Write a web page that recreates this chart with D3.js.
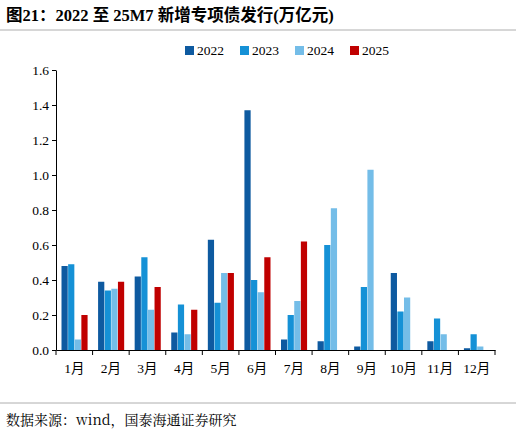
<!DOCTYPE html>
<html><head><meta charset="utf-8">
<script src="https://d3js.org/d3.v7.min.js"></script>
<style>body{margin:0;background:#fff}</style></head>
<body><svg id="c" width="516" height="435"></svg>
<script>
const months=["1月","2月","3月","4月","5月","6月","7月","8月","9月","10月","11月","12月"];
const seriesNames=["2022","2023","2024","2025"];
const s2022=[0.48,0.39,0.42,0.10,0.63,1.37,0.06,0.05,0.02,0.44,0.05,0.01];
const s2023=[0.49,0.34,0.53,0.26,0.27,0.40,0.20,0.60,0.36,0.22,0.18,0.09];
const s2024=[0.06,0.35,0.23,0.09,0.44,0.33,0.28,0.81,1.03,0.30,0.09,0.02];
const s2025=[0.20,0.39,0.36,0.23,0.44,0.53,0.62];
const yTicks=[0,0.2,0.4,0.6,0.8,1.0,1.2,1.4,1.6];
const colors=["#0E5AA0","#1591D6","#74BDE8","#C00000"];
const all=[s2022,s2023,s2024,s2025];
const svg=d3.select("#c");
const font="'Times New Roman','Liberation Serif','Noto Sans CJK SC',serif";
svg.append("text").attr("x",6).attr("y",21).attr("font-family","'Liberation Serif','Noto Sans CJK SC',serif").attr("font-weight","bold").attr("font-size",16.5).text("图21：2022 至 25M7 新增专项债发行(万亿元)");
svg.append("line").attr("x1",0).attr("x2",516).attr("y1",30).attr("y2",30).attr("stroke","#999").attr("stroke-width",0.8);
const x=d3.scaleBand().domain(months).range([56,495]);
const y=d3.scaleLinear().domain([0,1.6]).range([350,70]);
const inner=d3.scaleBand().domain(seriesNames).range([5.5,x.bandwidth()-5]).paddingInner(0.06);
all.forEach((arr,si)=>{
 svg.append("g").selectAll("rect").data(arr).join("rect")
  .attr("x",(d,i)=>x(months[i])+inner(seriesNames[si]))
  .attr("width",inner.bandwidth()).attr("y",d=>y(d)).attr("height",d=>y(0)-y(d)).attr("fill",colors[si]);
});
const ya=svg.append("g").attr("transform","translate(56,0)").call(d3.axisLeft(y).tickValues(yTicks).tickFormat(d3.format(".1f")).tickSize(4).tickSizeOuter(0));
ya.selectAll("text").attr("font-family",font).attr("font-size",13.5).attr("fill","#000");
const xa=svg.append("g").attr("transform","translate(0,350)").call(d3.axisBottom(x).tickSize(5).tickSizeOuter(0));
xa.selectAll(".tick line").attr("transform",`translate(${x.bandwidth()/2},0)`);
xa.append("line").attr("x1",56).attr("x2",56).attr("y1",0).attr("y2",5).attr("stroke","#000");
xa.selectAll("text").attr("font-family",font).attr("font-size",13.5).attr("fill","#000").attr("dy","1.1em");
svg.selectAll(".domain").attr("stroke","#000");
const lg=svg.append("g");
seriesNames.forEach((n,i)=>{
 const lx=185+i*55;
 lg.append("rect").attr("x",lx).attr("y",46).attr("width",9).attr("height",9).attr("fill",colors[i]);
 lg.append("text").attr("x",lx+12).attr("y",55).attr("font-family",font).attr("font-size",13.5).text(n);
});
svg.append("line").attr("x1",0).attr("x2",516).attr("y1",403).attr("y2",403).attr("stroke","#999").attr("stroke-width",0.8);
svg.append("text").attr("x",6).attr("y",425).attr("font-family","'Noto Serif CJK SC','Liberation Serif','Noto Sans CJK SC',serif").attr("font-size",14).text("数据来源：wind，国泰海通证券研究");
</script></body></html>
